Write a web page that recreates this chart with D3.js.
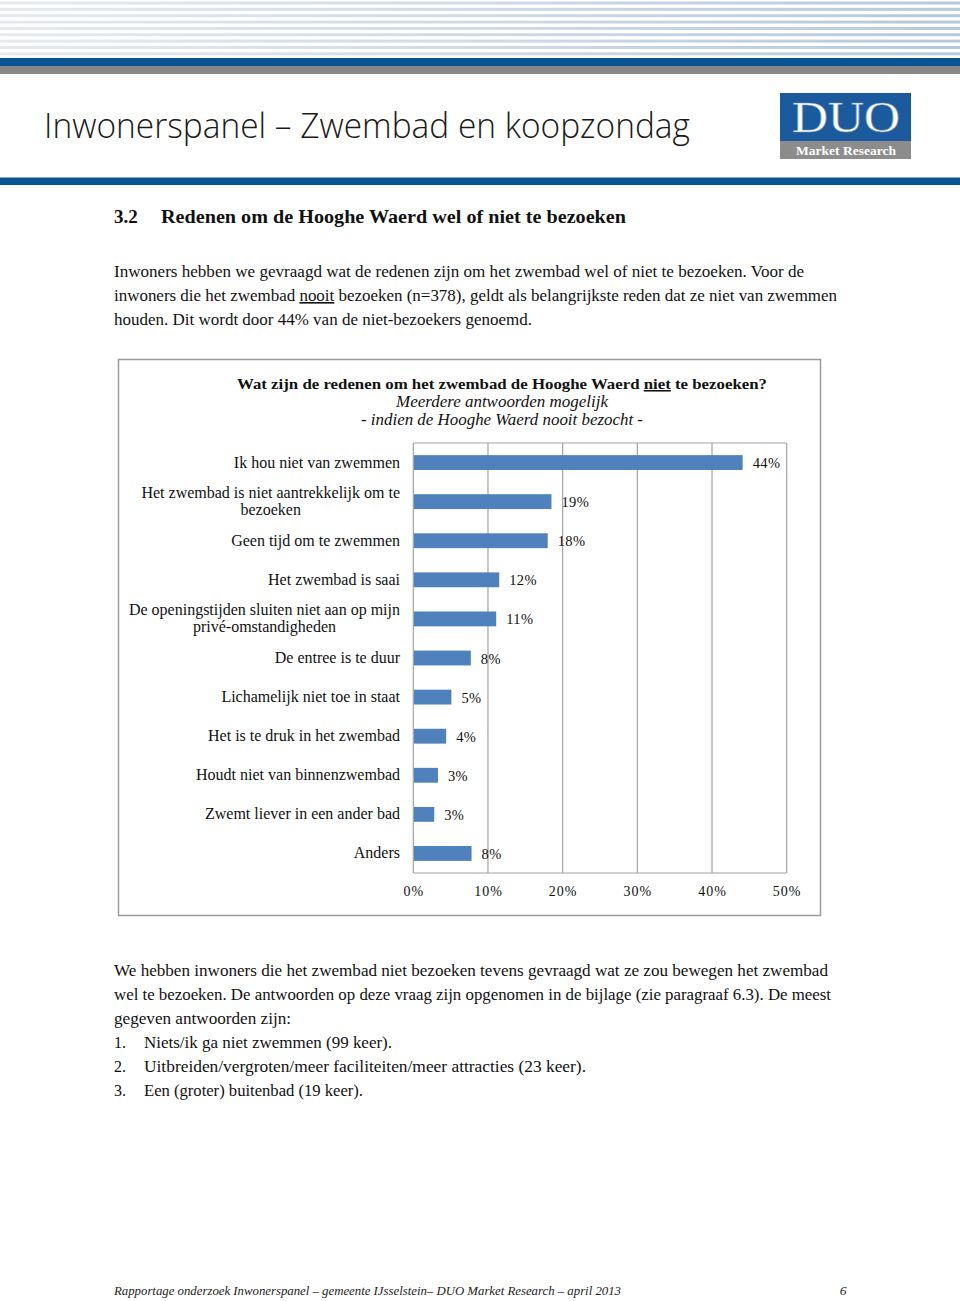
<!DOCTYPE html>
<html>
<head>
<meta charset="utf-8">
<script src="https://cdn.jsdelivr.net/npm/d3@7"></script>
<style>
  html, body { margin: 0; padding: 0; background: #fff; }
  svg { display: block; }
</style>
</head>
<body>
<svg id="page" width="960" height="1301"></svg>
<script>
// ---------- DATA ----------
const categories = [
  "Ik hou niet van zwemmen",
  "Het zwembad is niet aantrekkelijk om te\nbezoeken",
  "Geen tijd om te zwemmen",
  "Het zwembad is saai",
  "De openingstijden sluiten niet aan op mijn\nprivé-omstandigheden",
  "De entree is te duur",
  "Lichamelijk niet toe in staat",
  "Het is te druk in het zwembad",
  "Houdt niet van binnenzwembad",
  "Zwemt liever in een ander bad",
  "Anders"
];
const values = [44.1, 18.5, 18.0, 11.5, 11.1, 7.7, 5.1, 4.4, 3.3, 2.8, 7.8];
const valueLabels = ["44%", "19%", "18%", "12%", "11%", "8%", "5%", "4%", "3%", "3%", "8%"];
const xTicks = [0, 10, 20, 30, 40, 50];
const tickLabels = ["0%", "10%", "20%", "30%", "40%", "50%"];

const pageTitle = "Inwonerspanel \u2013 Zwembad en koopzondag";
const sectionNumber = "3.2";
const sectionTitle = "Redenen om de Hooghe Waerd wel of niet te bezoeken";
const introLines = [
  [{t: "Inwoners hebben we gevraagd wat de redenen zijn om het zwembad wel of niet te bezoeken. Voor de"}],
  [{t: "inwoners die het zwembad "}, {t: "nooit", u: true}, {t: " bezoeken (n=378), geldt als belangrijkste reden dat ze niet van zwemmen"}],
  [{t: "houden. Dit wordt door 44% van de niet-bezoekers genoemd."}]
];
const chartTitle = [{t: "Wat zijn de redenen om het zwembad de Hooghe Waerd "}, {t: "niet", u: true}, {t: " te bezoeken?"}];
const chartSub1 = "Meerdere antwoorden mogelijk";
const chartSub2 = "- indien de Hooghe Waerd nooit bezocht -";
const outroLines = [
  "We hebben inwoners die het zwembad niet bezoeken tevens gevraagd wat ze zou bewegen het zwembad",
  "wel te bezoeken. De antwoorden op deze vraag zijn opgenomen in de bijlage (zie paragraaf 6.3). De meest",
  "gegeven antwoorden zijn:"
];
const listNums = ["1.", "2.", "3."];
const listItems = [
  "Niets/ik ga niet zwemmen (99 keer).",
  "Uitbreiden/vergroten/meer faciliteiten/meer attracties (23 keer).",
  "Een (groter) buitenbad (19 keer)."
];
const footerText = "Rapportage onderzoek Inwonerspanel \u2013 gemeente IJsselstein\u2013 DUO Market Research \u2013 april 2013";
const pageNumber = "6";

// ---------- DRAW ----------
const svg = d3.select("#page");
const SERIF = "'Liberation Serif', 'Times New Roman', serif";
const defs = svg.append("defs");
const grad = defs.append("linearGradient").attr("id", "stripeGrad").attr("x1", "0").attr("x2", "1");
grad.append("stop").attr("offset", "0").attr("stop-color", "#e6eaee");
grad.append("stop").attr("offset", "0.5").attr("stop-color", "#cfdae4");
grad.append("stop").attr("offset", "1").attr("stop-color", "#b6c9d8");

// header stripes
const stripeIdx = d3.range(9);
svg.append("g").selectAll("rect").data(stripeIdx).join("rect")
  .attr("x", 0).attr("width", 960)
  .attr("y", d => 1.5 + d * 6.35).attr("height", 3)
  .attr("fill", "url(#stripeGrad)");
svg.append("rect").attr("x", 0).attr("y", 58).attr("width", 960).attr("height", 8).attr("fill", "#0b5494");
svg.append("rect").attr("x", 0).attr("y", 66).attr("width", 960).attr("height", 8).attr("fill", "#878787");

// title
svg.append("text").attr("x", 44).attr("y", 138)
  .attr("font-family", "'Open Sans', Lato, 'Noto Sans', sans-serif").attr("font-weight", 300)
  .attr("font-size", 34).attr("fill", "#1a1a1a")
  .attr("textLength", 646).attr("lengthAdjust", "spacingAndGlyphs")
  .text(pageTitle);

// logo
svg.append("rect").attr("x", 780).attr("y", 93).attr("width", 131).attr("height", 48).attr("fill", "#1b5a9c");
svg.append("rect").attr("x", 780).attr("y", 141).attr("width", 131).attr("height", 18).attr("fill", "#8c8c8c");
svg.append("text").attr("x", 846).attr("y", 132).attr("text-anchor", "middle")
  .attr("font-family", SERIF).attr("font-size", 45).attr("fill", "#ffffff")
  .attr("stroke", "#6f93bd").attr("stroke-width", 0.6)
  .attr("textLength", 108).attr("lengthAdjust", "spacingAndGlyphs")
  .text("DUO");
svg.append("text").attr("x", 846).attr("y", 155).attr("text-anchor", "middle")
  .attr("font-family", SERIF).attr("font-weight", "bold").attr("font-size", 13).attr("fill", "#ffffff")
  .attr("textLength", 100).attr("lengthAdjust", "spacingAndGlyphs")
  .text("Market Research");

// blue rule
svg.append("rect").attr("x", 0).attr("y", 178).attr("width", 960).attr("height", 7).attr("fill", "#0b5494");
svg.append("rect").attr("x", 0).attr("y", 177).attr("width", 960).attr("height", 1).attr("fill", "#7ea6cc");

// section heading
svg.append("text").attr("x", 114).attr("y", 223).attr("font-family", SERIF).attr("font-weight", "bold")
  .attr("font-size", 19).attr("fill", "#111").text(sectionNumber);
svg.append("text").attr("x", 161).attr("y", 223).attr("font-family", SERIF).attr("font-weight", "bold")
  .attr("font-size", 19).attr("fill", "#111")
  .attr("textLength", 465).attr("lengthAdjust", "spacingAndGlyphs").text(sectionTitle);

// intro paragraph
const introWidths = [690, 723, 418];
introLines.forEach((parts, i) => {
  const t = svg.append("text").attr("x", 114).attr("y", 277 + i * 24)
    .attr("font-family", SERIF).attr("font-size", 16).attr("fill", "#111")
    .attr("textLength", introWidths[i]).attr("lengthAdjust", "spacingAndGlyphs");
  parts.forEach(p => {
    const ts = t.append("tspan").text(p.t);
    if (p.u) ts.attr("text-decoration", "underline");
  });
});

// chart frame
svg.append("rect").attr("x", 118.5).attr("y", 359.5).attr("width", 702).attr("height", 556)
  .attr("fill", "#fff").attr("stroke", "#9a9a9a").attr("stroke-width", 1.5);

// chart title
const ct = svg.append("text").attr("x", 502).attr("y", 389).attr("text-anchor", "middle")
  .attr("font-family", SERIF).attr("font-weight", "bold").attr("font-size", 15.5).attr("fill", "#111")
  .attr("textLength", 530).attr("lengthAdjust", "spacingAndGlyphs");
chartTitle.forEach(p => {
  const ts = ct.append("tspan").text(p.t);
  if (p.u) ts.attr("text-decoration", "underline");
});
svg.append("text").attr("x", 502).attr("y", 407).attr("text-anchor", "middle")
  .attr("font-family", SERIF).attr("font-style", "italic").attr("font-size", 16).attr("fill", "#111")
  .attr("textLength", 212).attr("lengthAdjust", "spacingAndGlyphs").text(chartSub1);
svg.append("text").attr("x", 502).attr("y", 425).attr("text-anchor", "middle")
  .attr("font-family", SERIF).attr("font-style", "italic").attr("font-size", 16).attr("fill", "#111")
  .attr("textLength", 282).attr("lengthAdjust", "spacingAndGlyphs").text(chartSub2);

// scales
const x = d3.scaleLinear().domain([0, 50]).range([413.3, 786.7]);
const y = d3.scaleBand().domain(categories).range([443, 873]).paddingInner(0.62).paddingOuter(0.31);

const plot = svg.append("g");
// grid
plot.append("g").selectAll("line").data(xTicks).join("line")
  .attr("x1", d => x(d)).attr("x2", d => x(d)).attr("y1", 443).attr("y2", 873)
  .attr("stroke", "#a3a3a3").attr("stroke-width", 1.2);
plot.append("line").attr("x1", x(0)).attr("x2", x(50)).attr("y1", 443).attr("y2", 443)
  .attr("stroke", "#a3a3a3").attr("stroke-width", 1.2);
plot.append("line").attr("x1", x(0)).attr("x2", x(50)).attr("y1", 873).attr("y2", 873)
  .attr("stroke", "#a3a3a3").attr("stroke-width", 1.2);

// bars
plot.append("g").selectAll("rect").data(categories).join("rect")
  .attr("x", x(0) + 0.6).attr("y", d => y(d))
  .attr("width", (d, i) => x(values[i]) - x(0) - 0.6).attr("height", y.bandwidth())
  .attr("fill", "#4f81bd");

// value labels
plot.append("g").selectAll("text").data(categories).join("text")
  .attr("x", (d, i) => x(values[i]) + 10)
  .attr("y", d => y(d) + y.bandwidth() / 2 + 5.5)
  .attr("font-family", SERIF).attr("font-size", 14.5).attr("fill", "#111")
  .attr("letter-spacing", 0.4)
  .text((d, i) => valueLabels[i]);

// category labels
const labG = plot.append("g");
categories.forEach(c => {
  const lines = c.split("\n");
  const cy = y(c) + y.bandwidth() / 2;
  const g = labG.append("g");
  const texts = lines.map((ln, j) => g.append("text")
    .attr("y", cy + 5 + (j - (lines.length - 1) / 2) * 17)
    .attr("font-family", SERIF).attr("font-size", 16).attr("fill", "#111")
    .attr("text-anchor", "middle").text(ln));
  const w = d3.max(texts, t => t.node().getComputedTextLength());
  texts.forEach(t => t.attr("x", 400 - w / 2));
});

// x axis
const axis = d3.axisBottom(x).tickValues(xTicks).tickSize(0).tickPadding(13)
  .tickFormat((d, i) => tickLabels[i]);
const ax = plot.append("g").attr("transform", "translate(0,873)").call(axis);
ax.select(".domain").remove();
ax.selectAll("text").attr("font-family", SERIF).attr("font-size", 14).attr("fill", "#111")
  .attr("letter-spacing", 1);

// outro paragraph
const outroWidths = [714, 717, 177];
outroLines.forEach((ln, i) => {
  svg.append("text").attr("x", 114).attr("y", 976 + i * 24)
    .attr("font-family", SERIF).attr("font-size", 16).attr("fill", "#111")
    .attr("textLength", outroWidths[i]).attr("lengthAdjust", "spacingAndGlyphs").text(ln);
});
const listWidths = [248, 442, 219];
listItems.forEach((ln, i) => {
  svg.append("text").attr("x", 114).attr("y", 1048 + i * 24)
    .attr("font-family", SERIF).attr("font-size", 16).attr("fill", "#111").text(listNums[i]);
  svg.append("text").attr("x", 144).attr("y", 1048 + i * 24)
    .attr("font-family", SERIF).attr("font-size", 16).attr("fill", "#111")
    .attr("textLength", listWidths[i]).attr("lengthAdjust", "spacingAndGlyphs").text(ln);
});

// footer
svg.append("text").attr("x", 114).attr("y", 1295)
  .attr("font-family", SERIF).attr("font-style", "italic").attr("font-size", 13.5).attr("fill", "#222")
  .attr("textLength", 507).attr("lengthAdjust", "spacingAndGlyphs").text(footerText);
svg.append("text").attr("x", 843).attr("y", 1295).attr("text-anchor", "middle")
  .attr("font-family", SERIF).attr("font-style", "italic").attr("font-size", 13.5).attr("fill", "#222")
  .text(pageNumber);
</script>
</body>
</html>
